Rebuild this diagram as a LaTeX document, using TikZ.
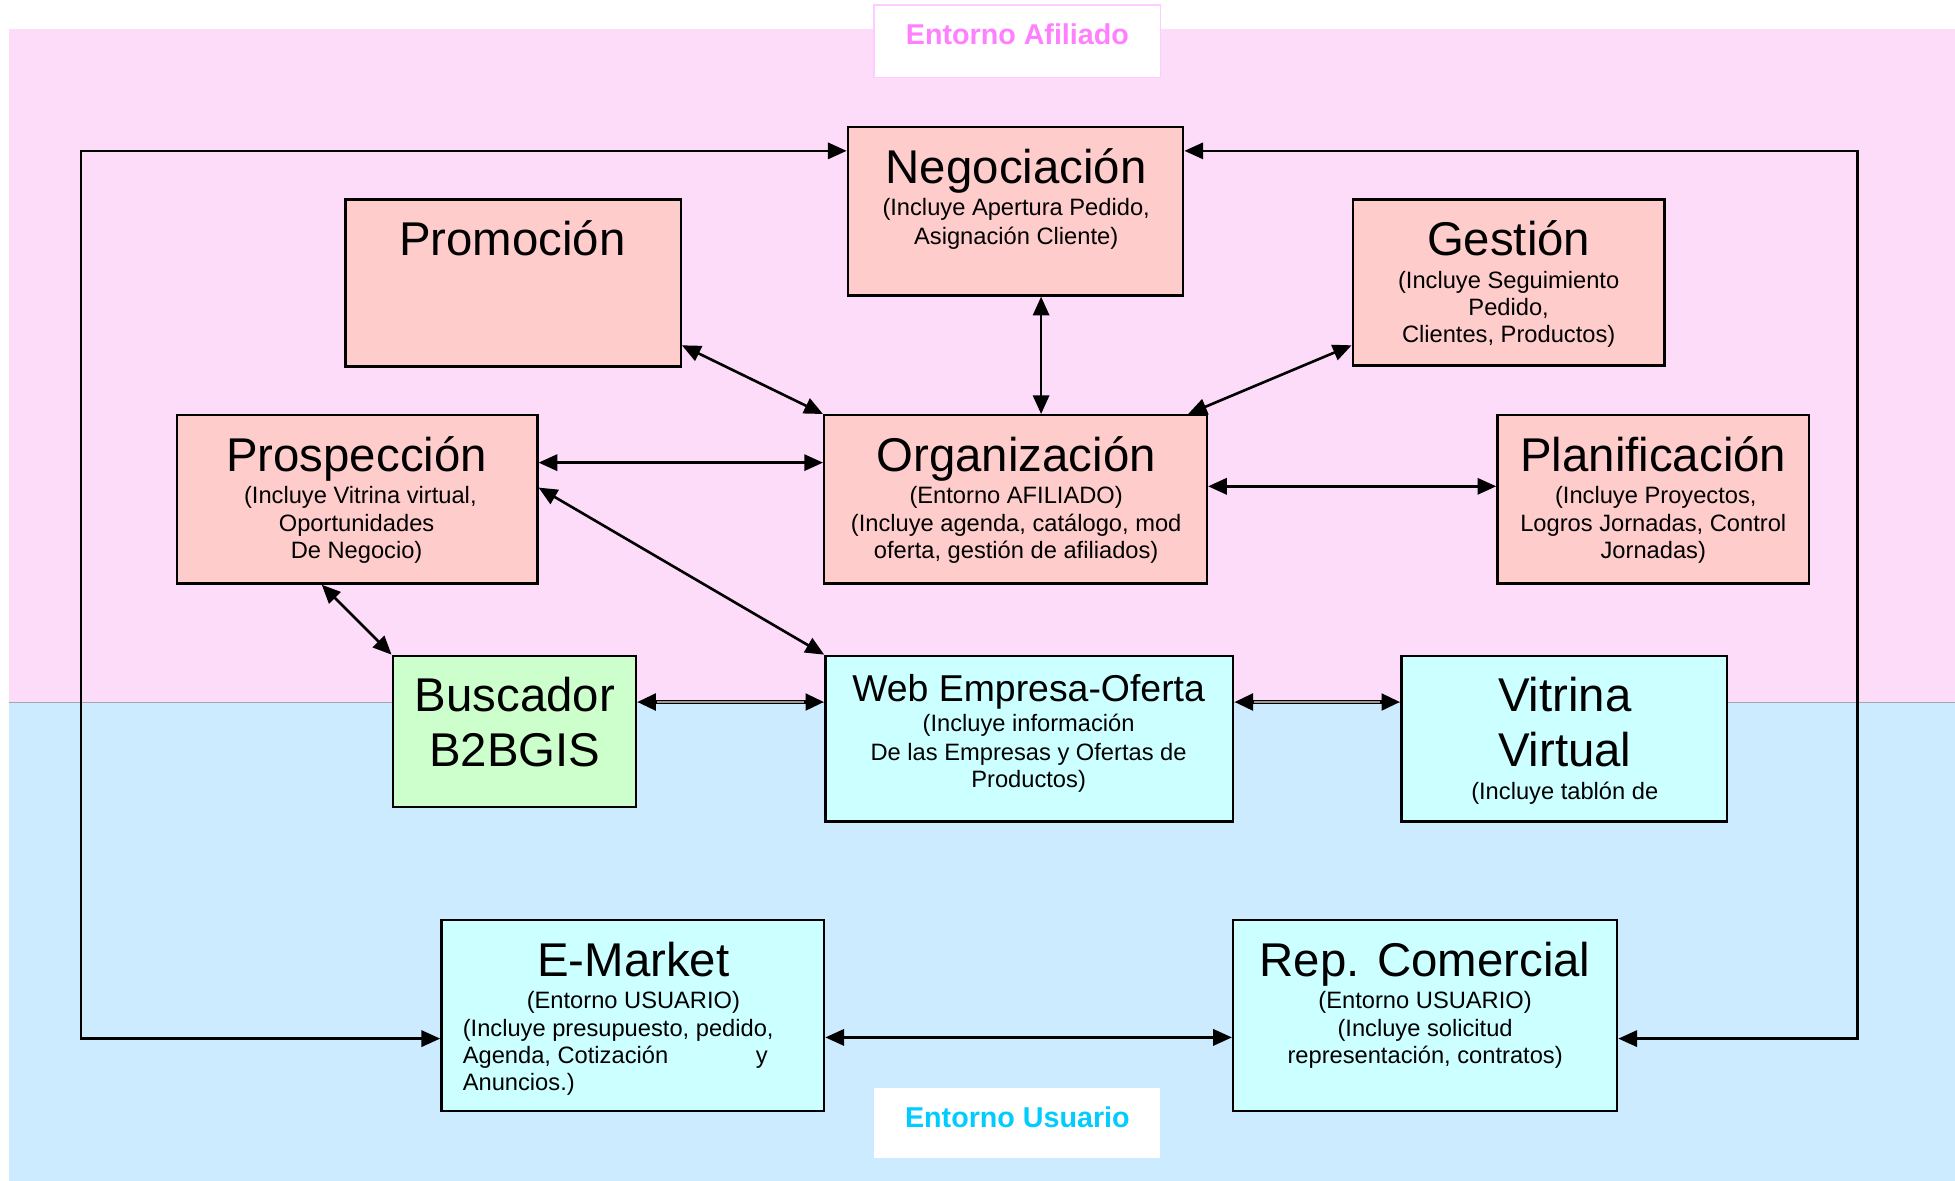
\documentclass[tikz,border=0pt]{standalone}
\usepackage{fontspec}
\setmainfont{Liberation Sans}
\usetikzlibrary{arrows.meta,calc}
\definecolor{bandpink}{HTML}{FCDCF9}
\definecolor{bandblue}{HTML}{CCEBFF}
\definecolor{salmon}{HTML}{FFCCCC}
\definecolor{cyanbox}{HTML}{CCFFFF}
\definecolor{greenbox}{HTML}{CCFFCC}
\definecolor{lblpink}{HTML}{FF80FF}
\definecolor{lblblue}{HTML}{00CCFF}
\definecolor{lblborder}{HTML}{FFCCFF}
\begin{document}
\begin{tikzpicture}[x=1pt,y=-1pt,
  box/.style={draw=black, line width=1.9pt, inner sep=0pt},
  ttl/.style={font=\fontsize{38}{44}\selectfont, anchor=base, inner sep=0pt},
  sml/.style={font=\fontsize{19}{22}\selectfont, anchor=base, inner sep=0pt},
  conn/.style={line width=2.1pt, {Triangle[length=15pt,width=13pt]}-{Triangle[length=15pt,width=13pt]}},
  lbl/.style={font=\fontsize{23}{26}\selectfont\bfseries, anchor=base, inner sep=0pt}
]
\useasboundingbox (0,0) rectangle (1568,947);
% bands
\fill[bandpink] (7,23) rectangle (1568,563);
\fill[bandblue] (7,563) rectangle (1568,947);
\draw[gray!70, line width=0.6pt] (7,563) -- (1568,563);
% label boxes
\node[draw=lblborder, fill=white, line width=1pt, minimum width=230pt, minimum height=58pt, inner sep=0pt] (lafil) at (816,33) {};
\node[lbl, text=lblpink] (tafil) at (816,36) {Entorno Afiliado};
\node[fill=white, minimum width=229pt, minimum height=56pt, inner sep=0pt] (lusu) at (815.5,901) {};
\node[lbl, text=lblblue] (tusu) at (816,904) {Entorno Usuario};
% boxes
\node[box, fill=salmon, minimum width=269pt, minimum height=135pt] (neg) at (814.5,169.5) {};
\node[box, fill=salmon, minimum width=269pt, minimum height=134pt] (promo) at (411.5,227) {};
\node[box, fill=salmon, minimum width=250pt, minimum height=133pt] (gest) at (1210,226.5) {};
\node[box, fill=salmon, minimum width=289pt, minimum height=135pt] (prosp) at (286.5,400.5) {};
\node[box, fill=salmon, minimum width=307pt, minimum height=135pt] (org) at (814.5,400.5) {};
\node[box, fill=salmon, minimum width=250pt, minimum height=135pt] (plan) at (1326,400.5) {};
\node[box, fill=greenbox, minimum width=195pt, minimum height=121pt] (busc) at (412.5,586.5) {};
\node[box, fill=cyanbox, minimum width=327pt, minimum height=133pt] (web) at (825.5,592.5) {};
\node[box, fill=cyanbox, minimum width=261pt, minimum height=133pt] (vit) at (1254.5,592.5) {};
\node[box, fill=cyanbox, minimum width=307pt, minimum height=153pt] (em) at (507.5,814.5) {};
\node[box, fill=cyanbox, minimum width=308pt, minimum height=153pt] (rep) at (1143,814.5) {};
% texts
\node[ttl] (tneg) at (815,147) {Negociación};
\node[sml] (tneg1) at (815,173) {(Incluye Apertura Pedido,};
\node[sml] (tneg2) at (815,196) {Asignación Cliente)};
\node[ttl] (tpromo) at (411,205) {Promoción};
\node[ttl] (tgest) at (1210,205) {Gestión};
\node[sml] (tgest1) at (1210,231) {(Incluye Seguimiento};
\node[sml] (tgest2) at (1210,253) {Pedido,};
\node[sml] (tgest3) at (1210,275) {Clientes, Productos)};
\node[ttl] (tprosp) at (286,378) {Prospección};
\node[sml] (tprosp1) at (289,404) {(Incluye Vitrina virtual,};
\node[sml] (tprosp2) at (286,426) {Oportunidades};
\node[sml] (tprosp3) at (286,448) {De Negocio)};
\node[ttl] (torg) at (815,378) {Organización};
\node[sml] (torg1) at (815,404) {(Entorno AFILIADO)};
\node[sml] (torg2) at (815,426) {(Incluye agenda, catálogo, mod};
\node[sml] (torg3) at (815,448) {oferta, gestión de afiliados)};
\node[ttl] (tplan) at (1326,378) {Planificación};
\node[sml] (tplan1) at (1328,404) {(Incluye Proyectos,};
\node[sml] (tplan2) at (1326,426) {Logros Jornadas, Control};
\node[sml] (tplan3) at (1326,448) {Jornadas)};
\node[ttl] (tbusc1) at (413,571) {Buscador};
\node[ttl] (tbusc2) at (413,615) {B2BGIS};
\node[ttl, font=\fontsize{30}{34}\selectfont] (tweb) at (825,563) {Web Empresa-Oferta};
\node[sml] (tweb1) at (825,587) {(Incluye información};
\node[sml] (tweb2) at (825,610) {De las Empresas y Ofertas de};
\node[sml] (tweb3) at (825,632) {Productos)};
\node[ttl] (tvit1) at (1255,571) {Vitrina};
\node[ttl] (tvit2) at (1255,615) {Virtual};
\node[sml] (tvit3) at (1255,641) {(Incluye tablón de};
\node[ttl] (tem) at (508,783) {E-Market};
\node[sml] (tem1) at (508,809) {(Entorno USUARIO)};
\node[sml, anchor=base west] (tem2) at (371,831) {(Incluye presupuesto, pedido,};
\node[sml, anchor=base west] (tem3) at (371,853) {Agenda, Cotización};
\node[sml, anchor=base west] (tem3b) at (606,853) {y};
\node[sml, anchor=base west] (tem4) at (371,875) {Anuncios.)};
\node[ttl] (trep) at (1143,783) {Rep. Comercial};
\node[sml] (trep1) at (1143,809) {(Entorno USUARIO)};
\node[sml] (trep2) at (1143,831) {(Incluye solicitud};
\node[sml] (trep3) at (1143,853) {representación, contratos)};
% connectors
\coordinate (lt) at (65,121);
\coordinate (lb) at (65,833);
\coordinate (rt) at (1490,121);
\coordinate (rb) at (1490,833);
\coordinate (vx) at (835,0);
\draw[conn] (neg.west |- lt) -- (lt) -- (lb) -- (em.west |- lb);
\draw[conn] (neg.east |- rt) -- (rt) -- (rb) -- (rep.east |- rb);
\draw[conn] (neg.south -| vx) -- (org.north -| vx);
\draw[conn] ($(promo.south east)+(0,-18)$) -- (org.north west);
\draw[conn] ($(gest.south west)+(0,-17)$) -- ($(org.north east)+(-16,0)$);
\draw[conn] ($(prosp.north east)+(0,39)$) -- ($(org.north west)+(0,39)$);
\draw[conn] ($(org.north east)+(0,58)$) -- ($(plan.north west)+(0,58)$);
\draw[conn] ($(prosp.north east)+(0,59)$) -- (web.north west);
\draw[conn] ($(prosp.south west)+(117,0)$) -- (busc.north west);
\draw[conn, line width=3.4pt] ($(busc.north east)+(0,38)$) -- ($(web.north west)+(0,38)$);
\draw[gray!80, line width=1.1pt, shorten <=16pt, shorten >=16pt] ($(busc.north east)+(0,38)$) -- ($(web.north west)+(0,38)$);
\draw[conn, line width=3.4pt] ($(web.north east)+(0,38)$) -- ($(vit.north west)+(0,38)$);
\draw[gray!80, line width=1.1pt, shorten <=16pt, shorten >=16pt] ($(web.north east)+(0,38)$) -- ($(vit.north west)+(0,38)$);
\draw[conn] ($(em.north east)+(0,95)$) -- ($(rep.north west)+(0,95)$);
\end{tikzpicture}
\end{document}
